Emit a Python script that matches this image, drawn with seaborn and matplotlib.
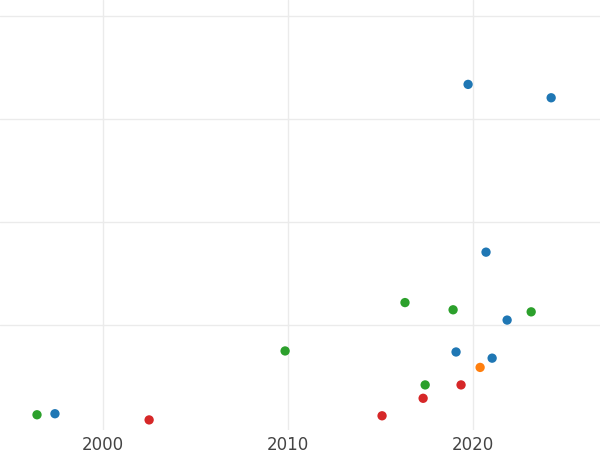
import matplotlib
matplotlib.use("Agg")
import matplotlib.pyplot as plt
import seaborn as sns
import pandas as pd

sns.set_style("whitegrid")

blue_x = [1997.4, 2019.73, 2024.22, 2020.70, 2021.84, 2019.08, 2021.03]
blue_y = [0.14, 3.34, 3.21, 1.71, 1.05, 0.74, 0.68]
green_x = [1996.43, 2009.84, 2016.32, 2018.92, 2023.14, 2017.41]
green_y = [0.13, 0.75, 1.22, 1.15, 1.13, 0.42]
red_x = [2002.49, 2015.08, 2017.30, 2019.35]
red_y = [0.08, 0.12, 0.29, 0.42]
orange_x = [2020.38]
orange_y = [0.59]

groups = [("blue", blue_x, blue_y, "#1f77b4"), ("green", green_x, green_y, "#2ca02c"),
          ("red", red_x, red_y, "#d62728"), ("orange", orange_x, orange_y, "#ff7f0e")]
rows = []
for g, xs, ys, _ in groups:
    rows += [{"year": x, "val": y, "g": g} for x, y in zip(xs, ys)]
df = pd.DataFrame(rows)
palette = {g: c for g, _, _, c in groups}

fig = plt.figure(figsize=(6, 4.5), dpi=100)
ax = fig.add_axes([0, 0.044, 1, 0.956])
sns.scatterplot(data=df, x="year", y="val", hue="g", palette=palette, s=45,
                edgecolor="none", legend=False, ax=ax)
ax.set_xlim(1994.43, 2026.86)
ax.set_ylim(-0.02, 4.16)
ax.set_xticks([2000, 2010, 2020])
ax.set_yticks([1, 2, 3, 4])
ax.set_yticklabels([])
ax.set_xlabel("")
ax.set_ylabel("")
ax.grid(color="#ebebeb", linewidth=1)
for s in ax.spines.values():
    s.set_visible(False)
ax.tick_params(axis="x", length=0, labelsize=12, labelcolor="#444444", pad=4)
ax.tick_params(axis="y", length=0)
fig.savefig("out.png")
